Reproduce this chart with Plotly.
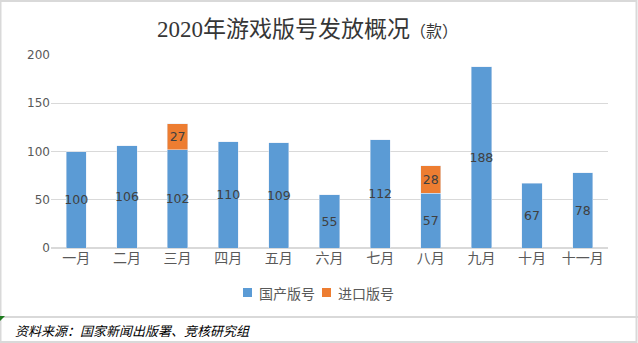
import plotly.graph_objects as go

# Monthly game licence approvals, 2020
months = ["一月", "二月", "三月", "四月", "五月", "六月", "七月", "八月", "九月", "十月", "十一月"]
domestic = [100, 106, 102, 110, 109, 55, 112, 57, 188, 67, 78]
imported = [None, None, 27, None, None, None, None, 28, None, None, None]
y_ticks = [0, 50, 100, 150, 200]
series_names = ["国产版号", "进口版号"]
series_colors = ["#5B9BD5", "#ED7D31"]

W, H = 638, 343
L, R, T, B = 51, 30, 55, 95
pw, ph = W - L - R, H - T - B


def px(x):
    return (x - L) / pw


def py(y):
    return (H - B - y) / ph


label_font = dict(family="DejaVu Sans, Noto Sans CJK SC", size=12.5, color="#404040")

fig = go.Figure()
for name, color, vals in zip(series_names, series_colors, [domestic, imported]):
    fig.add_trace(go.Bar(
        name=name, x=months, y=vals, marker_color=color,
        text=[str(v) if v is not None else "" for v in vals], textposition="inside",
        insidetextanchor="middle", textangle=0, textfont=label_font, constraintext="none",
        showlegend=False,
    ))

fig.update_layout(
    width=W, height=H, barmode="stack", bargap=0.6,
    margin=dict(l=L, r=R, t=T, b=B),
    paper_bgcolor="white", plot_bgcolor="white",
    font=dict(family="Noto Sans CJK SC", color="#595959"),
)
fig.update_xaxes(showline=False, ticks="", tickfont=dict(family="Noto Sans CJK SC", size=14, color="#595959"))
fig.update_yaxes(range=[0, 200], tickvals=y_ticks, showgrid=True, gridcolor="#D9D9D9", gridwidth=1,
                 zeroline=True, zerolinecolor="#D9D9D9", ticks="", ticklen=0,
                 tickfont=dict(family="DejaVu Sans", size=12, color="#595959"))

shapes = [
    # outer frame
    dict(type="rect", xref="paper", yref="paper", x0=px(0.5), x1=px(W - 1.5), y0=py(H - 1), y1=py(1),
         line=dict(color="#D9D9D9", width=2), fillcolor="rgba(0,0,0,0)", layer="below"),
    # footer separator
    dict(type="line", xref="paper", yref="paper", x0=px(0), x1=px(W), y0=py(317), y1=py(317),
         line=dict(color="#D9D9D9", width=2)),
    # corner marker
    dict(type="path", xref="paper", yref="paper",
         path=f"M {px(0)} {py(316)} L {px(5)} {py(316)} L {px(0)} {py(321)} Z",
         fillcolor="#1E7B1E", line=dict(width=0)),
]

annotations = [
    dict(xref="paper", yref="paper", x=px(155), y=py(30), xanchor="left", yanchor="middle",
         showarrow=False,
         text="2020年游戏版号发放概况<span style='font-size:16px;font-family:Noto Sans CJK SC'>（款）</span>",
         font=dict(family="Liberation Serif, Noto Sans CJK SC", size=23, color="#363636")),
    dict(xref="paper", yref="paper", x=px(13), y=py(330), xanchor="left", yanchor="middle",
         showarrow=False, text="<i>资料来源：国家新闻出版署、竞核研究组</i>",
         font=dict(family="Noto Sans CJK SC", size=13, color="#000000")),
]

# legend: square swatch followed by its label
legend_x = [243, 322]
for name, color, x0 in zip(series_names, series_colors, legend_x):
    shapes.append(dict(type="rect", xref="paper", yref="paper",
                       x0=px(x0), x1=px(x0 + 9), y0=py(297), y1=py(288),
                       fillcolor=color, line=dict(width=0)))
    annotations.append(dict(xref="paper", yref="paper", x=px(x0 + 14), y=py(292.5),
                            xanchor="left", yanchor="middle", showarrow=False, text=name,
                            font=dict(family="Noto Sans CJK SC", size=14, color="#595959")))

fig.update_layout(shapes=shapes, annotations=annotations)
fig.write_html("out.html")
